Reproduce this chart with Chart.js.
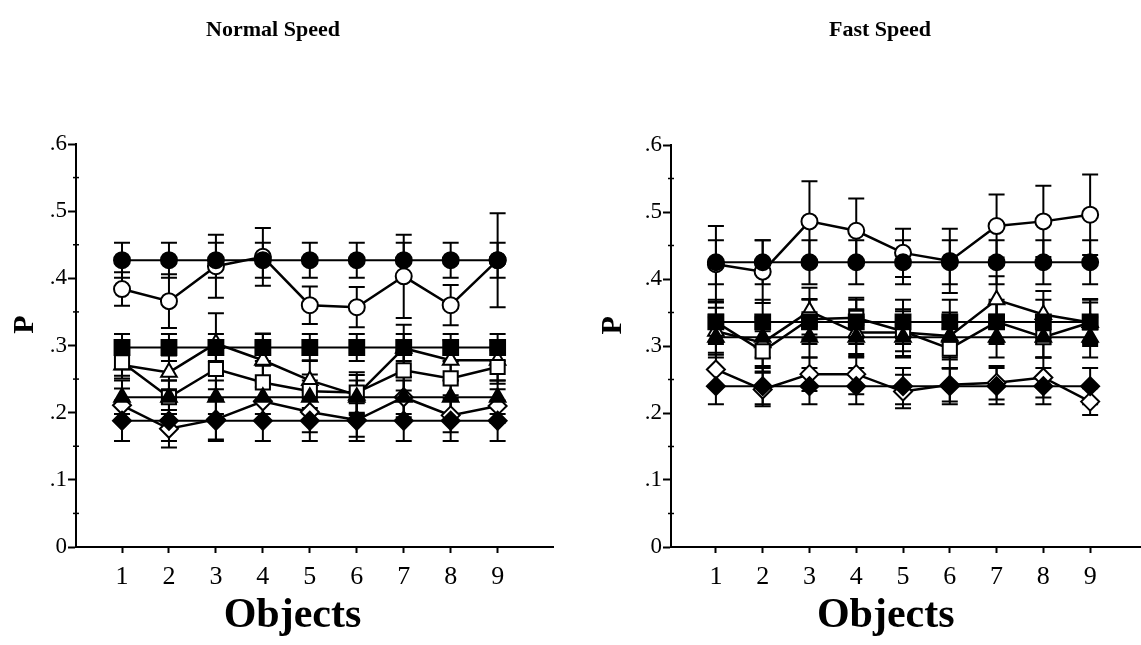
<!DOCTYPE html>
<html>
<head>
<meta charset="utf-8">
<script src="https://cdn.jsdelivr.net/npm/chart.js@4"></script>
<style>
html, body { margin: 0; padding: 0; background: #fff; overflow: hidden; width: 1141px; height: 645px; }
.panel { position: absolute; top: 0; height: 645px; }
</style>
</head>
<body>
<div class="panel" style="left:-20px;width:586px"><canvas id="normal"></canvas></div>
<div class="panel" style="left:590px;width:580px"><canvas id="fast"></canvas></div>
<script>
var objects = [1, 2, 3, 4, 5, 6, 7, 8, 9];
var yTicks = [0, 0.1, 0.2, 0.3, 0.4, 0.5, 0.6];

// Normal speed: means and error bars
var normalFilledCircle = [0.427, 0.427, 0.427, 0.427, 0.427, 0.427, 0.427, 0.427, 0.427];
var normalFilledCircleErr = [0.026, 0.026, 0.026, 0.026, 0.026, 0.026, 0.026, 0.026, 0.026];
var normalOpenCircle = [0.384, 0.366, 0.418, 0.432, 0.360, 0.357, 0.403, 0.360, 0.427];
var normalOpenCircleErr = [0.025, 0.040, 0.047, 0.043, 0.028, 0.030, 0.062, 0.030, 0.070];
var normalFilledSquare = [0.297, 0.297, 0.297, 0.297, 0.297, 0.297, 0.297, 0.297, 0.297];
var normalFilledSquareErr = [0.020, 0.020, 0.020, 0.020, 0.020, 0.020, 0.020, 0.020, 0.020];
var normalOpenSquare = [0.275, 0.223, 0.265, 0.245, 0.232, 0.230, 0.263, 0.251, 0.268];
var normalOpenSquareErr = [0.020, 0.025, 0.030, 0.025, 0.025, 0.030, 0.030, 0.025, 0.025];
var normalFilledTriangle = [0.223, 0.223, 0.223, 0.223, 0.223, 0.223, 0.223, 0.223, 0.223];
var normalFilledTriangleErr = [0.025, 0.025, 0.025, 0.025, 0.025, 0.025, 0.025, 0.025, 0.025];
var normalOpenTriangle = [0.271, 0.260, 0.303, 0.278, 0.248, 0.226, 0.296, 0.278, 0.278];
var normalOpenTriangleErr = [0.020, 0.025, 0.045, 0.040, 0.030, 0.030, 0.035, 0.030, 0.030];
var normalFilledDiamond = [0.188, 0.188, 0.188, 0.188, 0.188, 0.188, 0.188, 0.188, 0.188];
var normalFilledDiamondErr = [0.030, 0.030, 0.030, 0.030, 0.030, 0.030, 0.030, 0.030, 0.030];
var normalOpenDiamond = [0.211, 0.176, 0.190, 0.217, 0.201, 0.189, 0.223, 0.196, 0.210];
var normalOpenDiamondErr = [0.025, 0.028, 0.030, 0.028, 0.030, 0.025, 0.030, 0.025, 0.025];

// Fast speed: means and error bars
var fastFilledCircle = [0.425, 0.425, 0.425, 0.425, 0.425, 0.425, 0.425, 0.425, 0.425];
var fastFilledCircleErr = [0.033, 0.033, 0.033, 0.033, 0.033, 0.033, 0.033, 0.033, 0.033];
var fastOpenCircle = [0.422, 0.411, 0.486, 0.472, 0.439, 0.427, 0.479, 0.486, 0.496];
var fastOpenCircleErr = [0.057, 0.047, 0.060, 0.048, 0.036, 0.048, 0.047, 0.053, 0.060];
var fastFilledSquare = [0.336, 0.336, 0.336, 0.336, 0.336, 0.336, 0.336, 0.336, 0.336];
var fastFilledSquareErr = [0.033, 0.033, 0.033, 0.033, 0.033, 0.033, 0.033, 0.033, 0.033];
var fastOpenSquare = [0.336, 0.292, 0.340, 0.342, 0.322, 0.296, 0.336, 0.313, 0.335];
var fastOpenSquareErr = [0.030, 0.030, 0.030, 0.030, 0.030, 0.030, 0.030, 0.030, 0.030];
var fastFilledTriangle = [0.313, 0.313, 0.313, 0.313, 0.313, 0.313, 0.313, 0.313, 0.313];
var fastFilledTriangleErr = [0.030, 0.030, 0.030, 0.030, 0.030, 0.030, 0.030, 0.030, 0.030];
var fastOpenTriangle = [0.322, 0.305, 0.352, 0.320, 0.320, 0.315, 0.369, 0.347, 0.335];
var fastOpenTriangleErr = [0.035, 0.035, 0.035, 0.035, 0.035, 0.035, 0.035, 0.035, 0.035];
var fastFilledDiamond = [0.240, 0.240, 0.240, 0.240, 0.240, 0.240, 0.240, 0.240, 0.240];
var fastFilledDiamondErr = [0.027, 0.027, 0.027, 0.027, 0.027, 0.027, 0.027, 0.027, 0.027];
var fastOpenDiamond = [0.265, 0.235, 0.258, 0.258, 0.232, 0.242, 0.245, 0.253, 0.217];
var fastOpenDiamondErr = [0.025, 0.025, 0.025, 0.030, 0.025, 0.025, 0.025, 0.030, 0.020];

var FONT = "'Liberation Serif', 'DejaVu Serif', serif";
Chart.defaults.font.family = FONT;
Chart.defaults.color = '#000';

function series(values, errs, style, filled, radius) {
    return {
        data: objects.map(function(x, i) { return {x: x, y: values[i]}; }),
        errors: errs,
        borderColor: '#000',
        borderWidth: filled ? 2 : 2.5,
        pointStyle: style,
        pointRadius: radius,
        pointBorderWidth: 2,
        pointBorderColor: '#000',
        pointBackgroundColor: filled ? '#000' : '#fff',
        tension: 0
    };
}

// error bars under the points, minor ticks on the y axis
var errorBars = {
    id: 'errorBars',
    beforeDatasetsDraw: function(chart) {
        var ctx = chart.ctx, xs = chart.scales.x, ys = chart.scales.y;
        ctx.save();
        ctx.strokeStyle = '#000';
        ctx.lineWidth = 2;
        chart.data.datasets.forEach(function(ds) {
            ds.data.forEach(function(pt, i) {
                var e = ds.errors[i];
                var px = xs.getPixelForValue(pt.x);
                var top = ys.getPixelForValue(pt.y + e);
                var bot = ys.getPixelForValue(pt.y - e);
                ctx.beginPath();
                ctx.moveTo(px, top); ctx.lineTo(px, bot);
                ctx.moveTo(px - 8, top); ctx.lineTo(px + 8, top);
                ctx.moveTo(px - 8, bot); ctx.lineTo(px + 8, bot);
                ctx.stroke();
            });
        });
        ctx.restore();
    },
    afterDraw: function(chart) {
        var ctx = chart.ctx, xs = chart.scales.x, ys = chart.scales.y;
        var ax = chart.chartArea.left;
        var o = chart.options.plugins.errorBars;
        ctx.save();
        ctx.strokeStyle = '#000';
        ctx.lineWidth = 1.5;
        yTicks.slice(0, -1).forEach(function(v) {
            var py = ys.getPixelForValue(v + 0.05);
            ctx.beginPath();
            ctx.moveTo(ax - 3, py); ctx.lineTo(ax + 3, py);
            ctx.stroke();
        });
        // axis titles (the original sits them a little off-centre)
        ctx.fillStyle = '#000';
        ctx.textAlign = 'center';
        ctx.textBaseline = 'middle';
        ctx.font = 'bold 42px ' + FONT;
        ctx.fillText('Objects', xs.getPixelForValue(o.xTitleAt), chart.height - 29);
        ctx.translate(o.pX, ys.getPixelForValue(o.pAt));
        ctx.rotate(-Math.PI / 2);
        ctx.font = 'bold 30px ' + FONT;
        ctx.fillText('P', 0, 0);
        ctx.restore();
    }
};

function makeChart(id, title, datasets, opt) {
    var ctx = document.getElementById(id).getContext('2d');
    return new Chart(ctx, {
        type: 'line',
        data: { datasets: datasets },
        options: {
            responsive: true,
            maintainAspectRatio: false,
            animation: false,
            layout: { padding: 0 },
            plugins: {
                legend: { display: false },
                tooltip: { enabled: false },
                errorBars: { xTitleAt: 4.63, pX: opt.pX, pAt: 0.331 },
                title: {
                    display: true,
                    text: title,
                    color: '#000',
                    font: { family: FONT, size: 22, weight: 'bold' },
                    padding: { top: 17, bottom: opt.titleBottom }
                }
            },
            scales: {
                x: {
                    type: 'linear',
                    min: opt.xMin,
                    max: opt.xMax,
                    afterBuildTicks: function(s) { s.ticks = objects.map(function(v) { return {value: v}; }); },
                    afterFit: function(s) { s.height = 98; },
                    ticks: { color: '#000', font: { family: FONT, size: 26 }, padding: 9,
                        callback: function(v) { return String(v); } },
                    grid: { drawOnChartArea: false, tickLength: 6, tickColor: '#000', tickWidth: 2 },
                    border: { color: '#000', width: 2 }
                },
                y: {
                    min: 0,
                    max: 0.6,
                    afterBuildTicks: function(s) { s.ticks = yTicks.map(function(v) { return {value: v}; }); },
                    afterFit: function(s) { s.width = opt.yWidth; },
                    ticks: { color: '#000', font: { family: FONT, size: 23 }, padding: 1,
                        callback: function(v) { return v === 0 ? '0' : '.' + Math.round(v * 10); } },
                    grid: { drawOnChartArea: false, tickLength: 8, tickColor: '#000', tickWidth: 2 },
                    border: { color: '#000', width: 2 }
                }
            }
        },
        plugins: [errorBars]
    });
}

makeChart('normal', 'Normal Speed', [
    series(normalFilledCircle, normalFilledCircleErr, 'circle', true, 8),
    series(normalFilledSquare, normalFilledSquareErr, 'rect', true, 10.5),
    series(normalFilledTriangle, normalFilledTriangleErr, 'triangle', true, 9),
    series(normalFilledDiamond, normalFilledDiamondErr, 'rectRot', true, 9),
    series(normalOpenCircle, normalOpenCircleErr, 'circle', false, 8),
    series(normalOpenSquare, normalOpenSquareErr, 'rect', false, 10),
    series(normalOpenTriangle, normalOpenTriangleErr, 'triangle', false, 9),
    series(normalOpenDiamond, normalOpenDiamondErr, 'rectRot', false, 9)
], { xMin: 0.02, xMax: 10.19, yWidth: 96, pX: 45, titleBottom: 100.6 });

makeChart('fast', 'Fast Speed', [
    series(fastFilledCircle, fastFilledCircleErr, 'circle', true, 8),
    series(fastFilledSquare, fastFilledSquareErr, 'rect', true, 10.5),
    series(fastFilledTriangle, fastFilledTriangleErr, 'triangle', true, 9),
    series(fastFilledDiamond, fastFilledDiamondErr, 'rectRot', true, 9),
    series(fastOpenCircle, fastOpenCircleErr, 'circle', false, 8),
    series(fastOpenSquare, fastOpenSquareErr, 'rect', false, 10),
    series(fastOpenTriangle, fastOpenTriangleErr, 'triangle', false, 9),
    series(fastOpenDiamond, fastOpenDiamondErr, 'rectRot', false, 9)
], { xMin: 0.04, xMax: 10.44, yWidth: 81, pX: 23, titleBottom: 101.6 });
</script>
</body>
</html>
